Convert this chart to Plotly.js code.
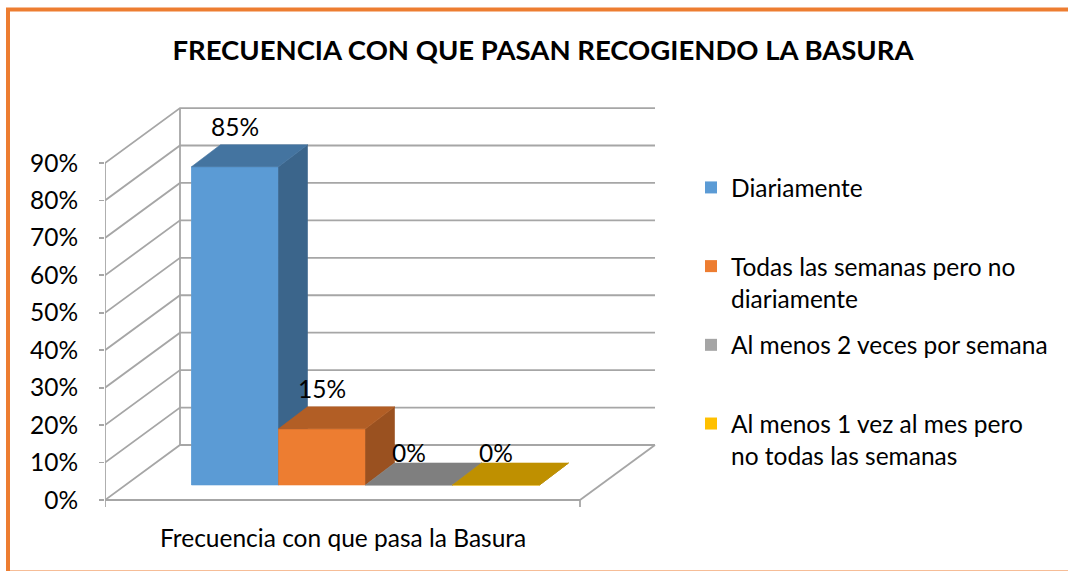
<!DOCTYPE html>
<html>
<head>
<meta charset="utf-8">
<script src="https://cdn.plot.ly/plotly-3.0.1.min.js"></script>
<style>
  html, body { margin: 0; padding: 0; background: #ffffff; }
  #chart { width: 1068px; height: 571px; }
</style>
</head>
<body>
<div id="chart"></div>
<script>
// ---------- data ----------
const categories = ['Diariamente', 'Todas las semanas pero no diariamente', 'Al menos 2 veces por semana', 'Al menos 1 vez al mes pero no todas las semanas'];
const legendLabels = ['Diariamente<br>\u00a0', 'Todas las semanas pero no<br>diariamente', 'Al menos 2 veces por semana<br>\u00a0', 'Al menos 1 vez al mes pero<br>no todas las semanas'];
const values = [85, 15, 0, 0];
const valueLabels = ['85%', '15%', '0%', '0%'];
const tickValues = [0, 10, 20, 30, 40, 50, 60, 70, 80, 90];
const tickLabels = ['0%', '10%', '20%', '30%', '40%', '50%', '60%', '70%', '80%', '90%'];
const chartTitle = 'FRECUENCIA CON QUE PASAN RECOGIENDO LA BASURA';
const axisTitle = 'Frecuencia con que pasa la Basura';

// ---------- styles / geometry ----------
const frontColors = ['#5B9BD5', '#ED7D31', '#A5A5A5', '#FFC000'];
const topColors   = ['#4474A0', '#B25E25', '#7F7F7F', '#BF9000'];
const sideColors  = ['#3B658B', '#9A5120', '#6B6B6B', '#A67D00'];
const FONT = 'Lato, "Open Sans", sans-serif';
const FS = 24.5;
const GRID = '#a6a6a6';

const PXU = 87, PXY = 3.744;            // pixels per x unit / per percent
const wallDx = 75 / PXU, wallDy = 55 / PXY;   // 3D depth of walls
const barDu = 29 / PXU, barDv = 22 / PXY;     // 3D depth of bars
const barBase = 15 / PXY;                      // bar front sits a bit behind the floor front
const uFront = -130 / PXU;                     // front-left corner of floor
const uRight = 345 / PXU;                      // front-right corner of floor
const xMin = uFront, xMax = 425 / PXU;
const yMin = -12 / PXY, yMax = 400 / PXY;

const traces = [];

// gridlines: left wall diagonals + back wall horizontals
(function () {
  const gx = [], gy = [];
  tickValues.forEach(t => {
    gx.push(uFront, uFront + wallDx, uRight + wallDx, null);
    gy.push(t, t + wallDy, t + wallDy, null);
  });
  const top = tickValues[tickValues.length - 1];
  gx.push(uFront, uFront, null, uFront + wallDx, uFront + wallDx, null,
          uFront, uRight, null, uRight, uRight + wallDx, null,
          uFront, uFront, null, uRight, uRight, null);
  gy.push(0, top, null, wallDy, top + wallDy, null,
          0, 0, null, 0, wallDy, null,
          0, -7 / PXY, null, 0, -7 / PXY, null);
  traces.push({ type: 'scatter', mode: 'lines', x: gx, y: gy, line: { color: GRID, width: 1.8 },
                showlegend: false, hoverinfo: 'skip' });
})();

// legend carriers: front faces as bars
values.forEach((v, i) => {
  traces.push({ type: 'bar', x: [i], y: [v], base: [barBase], width: [1], name: legendLabels[i],
                marker: { color: frontColors[i], line: { width: 0 } }, legendgroup: 'g' + i,
                hoverinfo: 'skip' });
});

// 3D faces, drawn in order so nearer bars cover farther sides
values.forEach((v, i) => {
  const l = i - 0.5, r = i + 0.5, b = barBase;
  const faces = [
    { x: [l, r, r, l, l], y: [b, b, b + v, b + v, b], c: frontColors[i] },
    { x: [r, r + barDu, r + barDu, r, r], y: [b, b + barDv, b + v + barDv, b + v, b], c: sideColors[i] },
    { x: [l, r, r + barDu, l + barDu, l], y: [b + v, b + v, b + v + barDv, b + v + barDv, b + v], c: topColors[i] }
  ];
  faces.forEach(f => {
    traces.push({ type: 'scatter', mode: 'lines', x: f.x, y: f.y, fill: 'toself', fillcolor: f.c,
                  line: { color: f.c, width: 0.6 }, showlegend: false, hoverinfo: 'skip' });
  });
});

// data labels
traces.push({
  type: 'scatter', mode: 'text',
  x: values.map((v, i) => i),
  y: values.map(v => v + barBase + barDv + (v > 0 ? 3.9 : 1.8)),
  text: valueLabels, textposition: 'middle center',
  textfont: { family: FONT, size: FS, color: '#000000' },
  cliponaxis: false, showlegend: false, hoverinfo: 'skip'
});

const plotL = 105, plotR = 660, plotT = 100, plotB = 512;
const px2x = p => (p - plotL) / (plotR - plotL);
const px2y = p => (plotB - p) / (plotB - plotT);

const layout = {
  width: 1068, height: 571,
  margin: { l: plotL, r: 1068 - plotR, t: plotT, b: 571 - plotB },
  paper_bgcolor: '#ffffff', plot_bgcolor: 'rgba(0,0,0,0)',
  barmode: 'overlay',
  showlegend: true,
  title: { text: '<b>' + chartTitle + '</b>', x: 543 / 1068, xanchor: 'center', y: 1 - 50 / 571, yanchor: 'middle',
           font: { family: FONT, size: 27.5, color: '#000000' } },
  xaxis: { range: [xMin, xMax], visible: false, fixedrange: true },
  yaxis: { range: [yMin, yMax], tickvals: tickValues, ticktext: tickLabels, showgrid: false, zeroline: false,
           showline: false, ticks: 'outside', ticklen: 5, tickwidth: 1.8, tickcolor: GRID,
           ticklabelstandoff: 16,
           tickfont: { family: FONT, size: FS, color: '#000000' }, fixedrange: true },
  legend: { x: px2x(691), xanchor: 'left', y: px2y(165), yanchor: 'top', valign: 'top',
            font: { family: FONT, size: FS, color: '#000000' }, tracegroupgap: 12,
            bgcolor: 'rgba(0,0,0,0)', borderwidth: 0, itemwidth: 30 },
  annotations: [
    { x: (uFront + uRight) / 2, y: 0, xref: 'x', yref: 'y', yshift: -37, text: axisTitle, showarrow: false,
      font: { family: FONT, size: FS, color: '#000000' }, xanchor: 'center', yanchor: 'middle' }
  ],
  shapes: [
    { type: 'rect', xref: 'paper', yref: 'paper', x0: px2x(8), x1: px2x(1080), y0: px2y(572.5), y1: px2y(9.5),
      line: { color: '#ED7D31', width: 4 }, fillcolor: 'rgba(0,0,0,0)', layer: 'below' }
  ]
};

Plotly.newPlot('chart', traces, layout, { displayModeBar: false, staticPlot: true });
</script>
</body>
</html>
